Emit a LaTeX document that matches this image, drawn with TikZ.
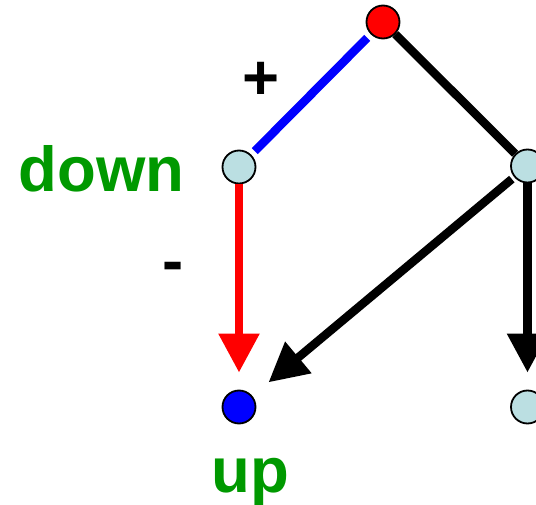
\documentclass[tikz,border=0pt]{standalone}
\usepackage{fontspec}
\setmainfont{Liberation Sans}
\usetikzlibrary{arrows.meta}
\usetikzlibrary{calc}

\definecolor{paleblue}{RGB}{187,223,226}
\definecolor{labelgreen}{RGB}{0,153,0}

\begin{document}
\begin{tikzpicture}[x=1pt, y=-1pt,
    vert/.style={circle, draw, line width=1.8pt, minimum size=33pt, inner sep=0pt},
    edge/.style={line width=8.5pt},
    arr/.style={line width=8.5pt, -{Triangle[length=39pt, width=39pt]}},
    lbl/.style={font=\fontsize{63.5}{63.5}\selectfont\bfseries, inner sep=0pt, anchor=base}]
        % Fix the page size
        \useasboundingbox (0,0) rectangle (536,505);

        % Draw the vertices
        \node[vert, fill=red] (top) at (383,22) {};
        \node[vert, fill=paleblue] (ml) at (239,167) {};
        \node[vert, fill=paleblue] (mr) at (527.5,166) {};
        \node[vert, fill=blue] (bl) at (239,407) {};
        \node[vert, fill=paleblue] (br) at (527.5,407) {};

        % Draw the edges
        \draw[edge, blue, shorten <=5pt, shorten >=5pt] (top) -- (ml);
        \draw[edge] (top) -- (mr);
        \draw[arr, red, shorten >=17pt] (ml) -- (bl);
        \draw[arr, shorten <=3pt, shorten >=21pt] (mr) -- (bl);
        \draw[arr, shorten >=17pt] (mr) -- (br);

        % Labels
        \node[lbl] (plus) at (261,100) {+};
        \node[lbl] (minus) at (173,283) {-};
        \node[lbl, text=labelgreen] (down) at (101.5,192) {down};
        \node[lbl, text=labelgreen] (up) at (250,492) {up};
      \end{tikzpicture}
\end{document}
